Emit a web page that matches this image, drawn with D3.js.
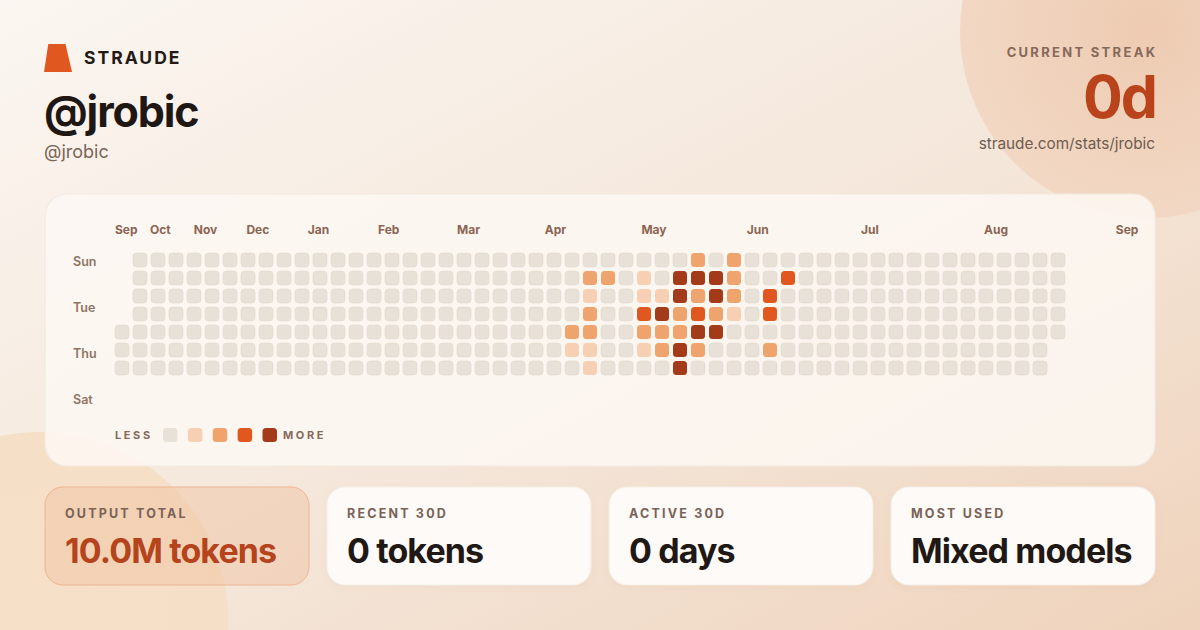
<!DOCTYPE html>
<html>
<head>
<meta charset="utf-8">
<script src="https://cdn.jsdelivr.net/npm/d3@7"></script>
<style>
  html, body { margin: 0; padding: 0; background: #f6ebe0; }
  svg { display: block; font-family: Inter, "Noto Sans", sans-serif; }
</style>
</head>
<body>
<svg id="chart" width="1200" height="630"></svg>
<script>
// ---------- data ----------
const brand = "STRAUDE";
const handle = "@jrobic";
const streakLabel = "CURRENT STREAK";
const streakValue = "0d";
const profileUrl = "straude.com/stats/jrobic";

const monthLabels = ["Sep","Oct","Nov","Dec","Jan","Feb","Mar","Apr","May","Jun","Jul","Aug","Sep"];
const dayLabels = ["Sun","","Tue","","Thu","","Sat"];

// one string per week (Sun..Sat); digit = activity level 0-4, "." = no day
const weekLevels = [
  "....000","0000000","0000000","0000000","0000000","0000000","0000000","0000000",
  "0000000","0000000","0000000","0000000","0000000","0000000","0000000","0000000",
  "0000000","0000000","0000000","0000000","0000000","0000000","0000000","0000000",
  "0000000","0000210","0212211","0200000","0000000","0113210","0014220","0442244",
  "2423420","0442400","2221000","0000000","0033020","0300000","0000000","0000000",
  "0000000","0000000","0000000","0000000","0000000","0000000","0000000","0000000",
  "0000000","0000000","0000000","0000000","00000.."
];
const levelColors = ["#e8e1d8","#f7cfb3","#f0a46d","#e0581f","#a33b1a"];
const legendLevels = [0,1,2,3,4];

const statLabels = ["OUTPUT TOTAL","RECENT 30D","ACTIVE 30D","MOST USED"];
const statValues = ["10.0M tokens","0 tokens","0 days","Mixed models"];

// ---------- drawing ----------
const svg = d3.select("#chart");
const defs = svg.append("defs");

const bg = defs.append("linearGradient").attr("id","bg")
  .attr("x1","0%").attr("y1","0%").attr("x2","100%").attr("y2","100%");
bg.append("stop").attr("offset","0%").attr("stop-color","#fbf6f1");
bg.append("stop").attr("offset","55%").attr("stop-color","#f4e6d9");
bg.append("stop").attr("offset","100%").attr("stop-color","#efd3bc");

const tr = defs.append("radialGradient").attr("id","trCircle");
tr.append("stop").attr("offset","0%").attr("stop-color","#eecbb2");
tr.append("stop").attr("offset","100%").attr("stop-color","#f2d8c4");

const bl = defs.append("radialGradient").attr("id","blCircle");
bl.append("stop").attr("offset","0%").attr("stop-color","#f6e1c8");
bl.append("stop").attr("offset","100%").attr("stop-color","#f5dfc6");

const sh = defs.append("filter").attr("id","shadow")
  .attr("x","-10%").attr("y","-20%").attr("width","120%").attr("height","150%");
sh.append("feDropShadow").attr("dx",0).attr("dy",2).attr("stdDeviation",3)
  .attr("flood-color","#b08060").attr("flood-opacity",0.08);

svg.append("rect").attr("width",1200).attr("height",630).attr("fill","url(#bg)");
svg.append("circle").attr("cx",1147).attr("cy",31).attr("r",187).attr("fill","url(#trCircle)");
svg.append("circle").attr("cx",40).attr("cy",620).attr("r",188).attr("fill","url(#blCircle)");

// header
svg.append("path").attr("d","M48.3,44 L65.5,44 L72,72 L44,72 Z").attr("fill","#e0581f");
svg.append("text").attr("x",84).attr("y",64).text(brand)
  .attr("font-size",17.5).attr("font-weight",700).attr("fill","#231a15")
  .style("letter-spacing","2px");
svg.append("text").attr("x",44).attr("y",127).text(handle)
  .attr("font-size",43).attr("font-weight",700).attr("fill","#1e1714")
  .style("letter-spacing","-1.1px");
svg.append("text").attr("x",44).attr("y",158).text(handle)
  .attr("font-size",18).attr("font-weight",400).attr("fill","#7b6558");

svg.append("text").attr("x",1157.3).attr("y",57).attr("text-anchor","end").text(streakLabel)
  .attr("font-size",13).attr("font-weight",700).attr("fill","#85695a")
  .style("letter-spacing","2.3px");
svg.append("text").attr("x",1156).attr("y",118).attr("text-anchor","end").text(streakValue)
  .attr("font-size",59).attr("font-weight",700).attr("fill","#b9441c")
  .style("letter-spacing","-2px");
svg.append("text").attr("x",1155).attr("y",149).attr("text-anchor","end").text(profileUrl)
  .attr("font-size",15.3).attr("font-weight",400).attr("fill","#6f5b50");

// panel
svg.append("rect").attr("x",45).attr("y",194).attr("width",1110).attr("height",272)
  .attr("rx",22).attr("fill","#fdf8f3").attr("fill-opacity",0.85)
  .attr("stroke","#f3e9df").attr("stroke-width",1.2);

// scales
const x = d3.scaleBand().domain(d3.range(weekLevels.length)).range([115,1065])
  .paddingInner(4/18).paddingOuter(0);
const y = d3.scaleBand().domain(d3.range(7)).range([253,375])
  .paddingInner(4/18).paddingOuter(0);
const dayY = d3.scalePoint().domain(d3.range(7)).range([262,400]);
const monthX = i => 115 + 30.6 * i + 4.4 * i * i;   // label layout of the source card

svg.append("g").selectAll("text").data(monthLabels).join("text")
  .attr("x",(d,i)=>monthX(i)).attr("y",234).text(d=>d)
  .attr("font-size",12).attr("font-weight",700).attr("fill","#8b6553");

svg.append("g").selectAll("text").data(dayLabels).join("text")
  .attr("x",73).attr("y",(d,i)=>dayY(i)).attr("dy","0.35em").text(d=>d)
  .attr("font-size",12.5).attr("font-weight",600).attr("fill","#8e7566");

const cells = [];
weekLevels.forEach((w,wi)=>{
  w.split("").forEach((c,di)=>{ if (c !== ".") cells.push({week:wi, day:di, level:+c}); });
});
svg.append("g").selectAll("rect").data(cells).join("rect")
  .attr("x",d=>x(d.week)).attr("y",d=>y(d.day))
  .attr("width",x.bandwidth()).attr("height",y.bandwidth())
  .attr("rx",3.5).attr("fill",d=>levelColors[d.level])
  .attr("stroke",d=>d.level===0?"#e1d8cd":"none").attr("stroke-width",0.6);

// legend
const lx = d3.scaleBand().domain(legendLevels).range([163,277]).paddingInner(10/24).paddingOuter(0);
svg.append("text").attr("x",115).attr("y",439).text("LESS")
  .attr("font-size",11).attr("font-weight",700).attr("fill","#85695a")
  .style("letter-spacing","2.6px");
svg.append("g").selectAll("rect").data(legendLevels).join("rect")
  .attr("x",d=>lx(d)).attr("y",428).attr("width",lx.bandwidth()).attr("height",14)
  .attr("rx",3.5).attr("fill",d=>levelColors[d]);
svg.append("text").attr("x",283).attr("y",439).text("MORE")
  .attr("font-size",11).attr("font-weight",700).attr("fill","#85695a")
  .style("letter-spacing","2.6px");

// stat cards
const cx = d3.scaleBand().domain(d3.range(statLabels.length)).range([45,1155])
  .paddingInner(18/282).paddingOuter(0);
const cards = svg.append("g").selectAll("g").data(statLabels).join("g")
  .attr("transform",(d,i)=>`translate(${cx(i)},487)`);
cards.append("rect").attr("width",cx.bandwidth()).attr("height",98).attr("rx",18)
  .attr("fill",(d,i)=>i===0?"#f0c4a4":"#fdfaf7")
  .attr("fill-opacity",(d,i)=>i===0?0.5:1)
  .attr("stroke",(d,i)=>i===0?"#eeb594":"#f6eee6").attr("stroke-width",1)
  .attr("filter",(d,i)=>i===0?null:"url(#shadow)");
cards.append("text").attr("x",20).attr("y",31).text(d=>d)
  .attr("font-size",12.5).attr("font-weight",700).attr("fill","#7a6257")
  .style("letter-spacing","2.2px");
cards.append("text").attr("x",20).attr("y",76).text((d,i)=>statValues[i])
  .attr("font-size",34).attr("font-weight",700)
  .attr("fill",(d,i)=>i===0?"#b5441d":"#1f1814")
  .style("letter-spacing","-0.9px");
</script>
</body>
</html>
